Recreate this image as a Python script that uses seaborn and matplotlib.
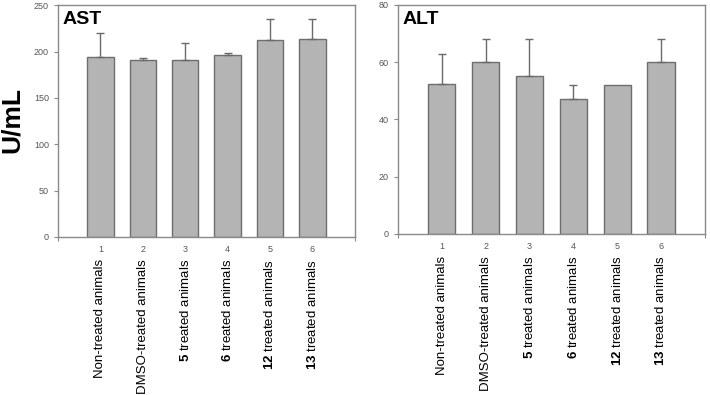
import numpy as np
import pandas as pd
import matplotlib
matplotlib.use('Agg')
import matplotlib.pyplot as plt
import seaborn as sns

# Data
groups = ['1', '2', '3', '4', '5', '6']
group_labels = ['Non-treated animals', 'DMSO-treated animals',
                r'$\mathbf{5}$ treated animals', r'$\mathbf{6}$ treated animals',
                r'$\mathbf{12}$ treated animals', r'$\mathbf{13}$ treated animals']
ast_mean = [194, 191, 191, 196, 212, 214]
ast_err = [26, 2, 18, 2, 23, 21]
alt_mean = [52.5, 60, 55, 47, 52, 60]
alt_err = [10.5, 8, 13, 5, 0, 8]

sns.set_style('white')
plt.rcParams['font.family'] = ['Liberation Sans', 'DejaVu Sans']
plt.rcParams['mathtext.fontset'] = 'custom'
plt.rcParams['mathtext.rm'] = 'Liberation Sans'
plt.rcParams['mathtext.bf'] = 'Liberation Sans:bold'

fig = plt.figure(figsize=(7.1, 3.95), dpi=100)
ax1 = fig.add_axes([0.0817, 0.40, 0.418, 0.587])
ax2 = fig.add_axes([0.5606, 0.4076, 0.432, 0.58])

bar_color = '#b4b4b4'
edge_color = '#6e6e6e'
axis_color = '#8a8a8a'


def draw(ax, mean, err, title, ymax, yticks):
    df = pd.DataFrame({'group': groups, 'value': mean})
    sns.barplot(data=df, x='group', y='value', color=bar_color, width=0.62,
                edgecolor=edge_color, linewidth=1.0, saturation=1, ax=ax)
    x = np.arange(len(groups))
    mean = np.asarray(mean, dtype=float)
    err = np.asarray(err, dtype=float)
    keep = err > 0
    ax.errorbar(x[keep], mean[keep], yerr=[np.zeros(keep.sum()), err[keep]],
                fmt='none', ecolor='#6a6a6a', elinewidth=1.0, capsize=3,
                capthick=1.0)
    ax.set_xlim(-1, 6)
    ax.set_ylim(0, ymax)
    ax.set_yticks(yticks)
    ax.set_xticks([-1, 6])
    ax.set_xticklabels([])
    ax.set_xticks(x, minor=True)
    ax.set_xticklabels(groups, minor=True)
    ax.tick_params(axis='x', which='minor', length=0, labelsize=6.5,
                   labelcolor='#555555', pad=6)
    ax.tick_params(axis='x', which='major', length=3, color=axis_color,
                   direction='out', bottom=True)
    ax.tick_params(axis='y', length=3, color=axis_color, direction='out',
                   labelsize=6.5, labelcolor='#555555', left=True)
    for s in ax.spines.values():
        s.set_color(axis_color)
        s.set_linewidth(1.0)
    ax.set_xlabel('')
    ax.set_ylabel('')
    ax.text(0.015, 0.975, title, transform=ax.transAxes, ha='left', va='top',
            fontsize=14, fontweight='bold', color='black')
    for i, lab in enumerate(group_labels):
        ax.text(i, -0.095, lab, transform=ax.get_xaxis_transform(),
                rotation=90, ha='center', va='top', fontsize=9.5,
                color='black')


draw(ax1, ast_mean, ast_err, 'AST', 250, [0, 50, 100, 150, 200, 250])
draw(ax2, alt_mean, alt_err, 'ALT', 80, [0, 20, 40, 60, 80])

fig.text(0.017, 0.695, 'U/mL', rotation=90, ha='center', va='center',
         fontsize=19, fontweight='bold', color='black')

fig.savefig('out.png', dpi=100)
